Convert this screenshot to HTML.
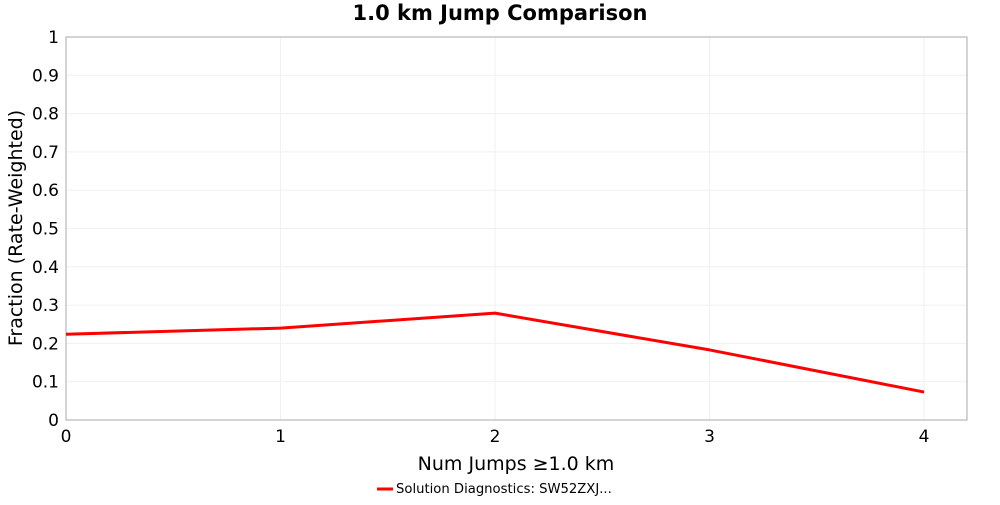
<!DOCTYPE html>
<html><head><meta charset="utf-8"><style>
body{margin:0;background:#fff;width:1000px;height:500px;overflow:hidden;font-family:"Liberation Sans","DejaVu Sans",sans-serif}
</style></head><body>
<svg id="chart" width="1000" height="500" xmlns="http://www.w3.org/2000/svg">
<text x="500" y="20" text-anchor="middle" font-family="DejaVu Sans, sans-serif" font-weight="bold" font-size="21">1.0 km Jump Comparison</text>
<g id="grid"></g>
<rect x="66" y="37" width="901" height="383" fill="none" stroke="#aaa"/>
<g id="ticks"></g>
<text transform="translate(22,228) rotate(-90)" text-anchor="middle" font-family="DejaVu Sans, sans-serif" font-size="19">Fraction (Rate-Weighted)</text>
<text x="516" y="470" text-anchor="middle" font-family="DejaVu Sans, sans-serif" font-size="19">Num Jumps ≥1.0 km</text>
<g>
<line x1="377" y1="489" x2="393" y2="489" stroke="red" stroke-width="3"/>
<text x="396" y="493" font-family="DejaVu Sans, sans-serif" font-size="13.2">Solution Diagnostics: SW52ZXJ...</text>
</g>
</svg>
<script>
const categories=[0,1,2,3,4];
const values=[0.224,0.240,0.279,0.183,0.073];
const yTicks=[0,0.1,0.2,0.3,0.4,0.5,0.6,0.7,0.8,0.9,1];
const yTickLabels=["0","0.1","0.2","0.3","0.4","0.5","0.6","0.7","0.8","0.9","1"];
const xTicks=[0,1,2,3,4];
const NS="http://www.w3.org/2000/svg";
const X0=66,X1=967,Y0=420,Y1=37,XMAX=4.2;
const xs=v=>X0+v/XMAX*(X1-X0);
const ys=v=>Y0-v*(Y0-Y1);
const svg=document.getElementById('chart'),grid=document.getElementById('grid'),tk=document.getElementById('ticks');
function mk(tag,attrs,parent){const e=document.createElementNS(NS,tag);for(const k in attrs)e.setAttribute(k,attrs[k]);parent.appendChild(e);return e;}
yTicks.forEach((t,i)=>{
 const g=mk('line',{x1:X0,x2:X1,y1:ys(t),y2:ys(t),stroke:'#f0f0f0'},grid);
 
 
 const l=mk('text',{x:X0-7,y:ys(t)+6,'text-anchor':'end','font-size':17,'font-family':'DejaVu Sans, sans-serif'},tk);
 
 
 l.textContent=yTickLabels[i];
});
xTicks.forEach(t=>{
 const g=mk('line',{x1:xs(t),x2:xs(t),y1:Y1,y2:Y0,stroke:'#f0f0f0'},grid);
 
 
 const l=mk('text',{x:xs(t),y:Y0+22,'text-anchor':'middle','font-size':17,'font-family':'DejaVu Sans, sans-serif'},tk);
 
 
 l.textContent=String(t);
});
const p=mk('polyline',{points:categories.map((c,i)=>xs(c)+','+ys(values[i])).join(' '),fill:'none',stroke:'red','stroke-width':3,'stroke-linejoin':'round'},svg);


</script>
</body></html>
